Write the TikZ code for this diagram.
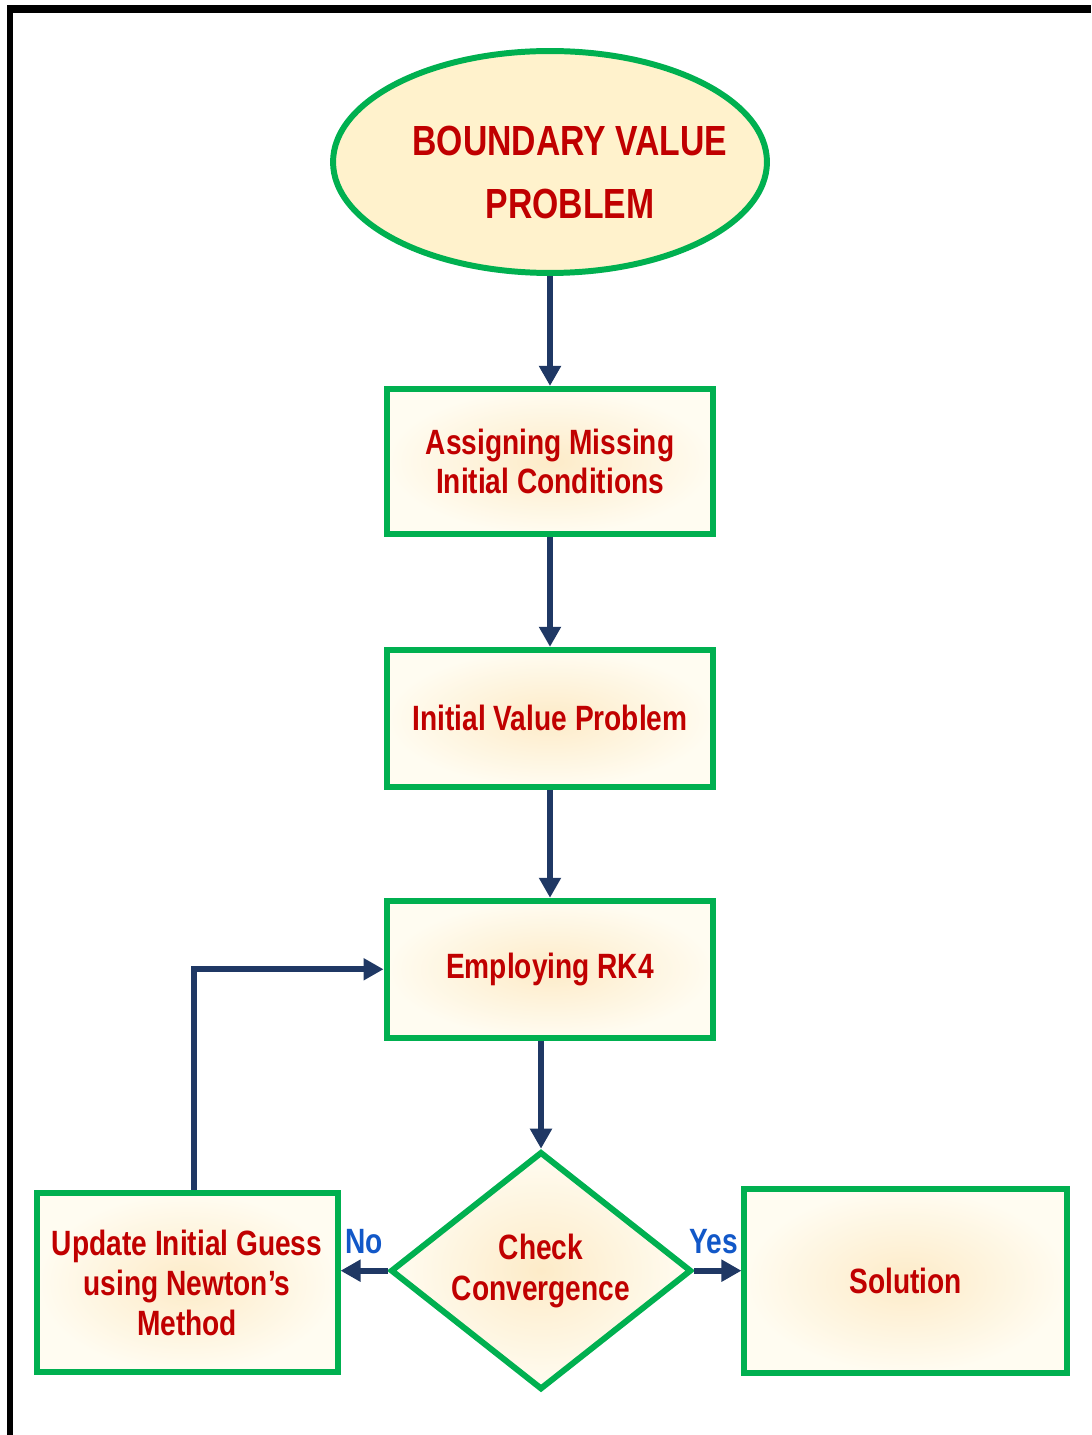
\documentclass[tikz,border=0pt]{standalone}
\usepackage{fontspec}
\setmainfont{Liberation Sans}
\newfontfamily\schmal{Liberation Sans}[FakeStretch=0.8]
\newfontfamily\titelschrift{Liberation Sans}[FakeStretch=0.8]
\usepackage{tikz}
\usetikzlibrary{arrows.meta,positioning,shapes.geometric,calc}

\definecolor{rahmengruen}{HTML}{00B050}
\definecolor{textrot}{HTML}{C00000}
\definecolor{pfeilblau}{HTML}{1F3864}
\definecolor{labelblau}{HTML}{1258C8}
\definecolor{creme}{HTML}{FFF2CC}
\definecolor{glowin}{HTML}{FDEBC8}
\definecolor{glowout}{HTML}{FFFCF1}

\begin{document}
\begin{tikzpicture}[
  x=0.02cm, y=-0.02cm,
  every node/.style={anchor=center},
  startF/.style={ellipse, draw=rahmengruen, line width=3.4pt, fill=creme,
    inner sep=0pt, minimum width=8.68cm, minimum height=4.44cm},
  titel/.style={text=textrot, align=center,
    font=\titelschrift\bfseries\fontsize{24pt}{35.7pt}\selectfont},
  boxF/.style={rectangle, draw=rahmengruen, line width=3.4pt,
    inner color=glowin, outer color=glowout, align=center, text=textrot,
    font=\schmal\bfseries\fontsize{20pt}{22.7pt}\selectfont,
    minimum width=6.54cm, minimum height=2.74cm},
  pruefF/.style={diamond, draw=rahmengruen, line width=3.4pt,
    inner color=glowin, outer color=glowout, align=center, text=textrot,
    font=\schmal\bfseries\fontsize{20pt}{23.5pt}\selectfont,
    inner sep=0pt, aspect=1.27, minimum width=6.02cm, minimum height=4.76cm},
  pfeil/.style={draw=pfeilblau, line width=3.2pt,
    -{Triangle[length=0.4cm, width=0.42cm]}},
  jn/.style={text=labelblau, font=\schmal\bfseries\fontsize{20pt}{22.7pt}\selectfont}
]
  \useasboundingbox (0,0) rectangle (1091,1435);

  % --- Rahmen (nur oben und links) ---
  \draw[line width=4.5pt] (7,9) -- (1091,9);
  \draw[line width=3.4pt] (10,9) -- (10,1435);

  % --- Hauptkette ---
  \node[startF, label={[titel, xshift=0.4cm, yshift=-0.21cm]center:BOUNDARY VALUE\\PROBLEM}] (bvp) at (550,162) {};

  \node (assign) [boxF, below=2.2cm of bvp, minimum height=2.9cm] {Assigning Missing\\Initial Conditions};
  \node (ivp) [boxF, below=2.2cm of assign] {Initial Value Problem};
  \node (rk4) [boxF, below=2.16cm of ivp] {Employing RK4};
  \node (check) [pruefF, below=2.16cm of rk4, xshift=-0.18cm] {Check\\Convergence};

  % --- Verzweigung ---
  \node (update) [boxF, left=0.94cm of check, yshift=-0.24cm, minimum width=6.02cm, minimum height=3.58cm]
    {Update Initial Guess\\using Newton’s\\Method};
  \node (loesung) [boxF, right=0.94cm of check, yshift=-0.2cm, minimum width=6.46cm, minimum height=3.68cm]
    {Solution};

  % Pfeile
  \draw[pfeil] (bvp) -- (assign);
  \draw[pfeil] (assign) -- (ivp);
  \draw[pfeil] (ivp) -- (rk4);
  \draw[pfeil] (check.north |- rk4.south) -- (check.north);
  \draw[pfeil] (check.west) -- (check.west -| update.east)
    node (nein) [jn, midway, above=0.16cm] {No};
  \draw[pfeil] (check.east) -- (check.east -| loesung.west)
    node (ja) [jn, midway, above=0.16cm, xshift=-0.08cm] {Yes};
  \draw[pfeil] ([xshift=0.14cm]update.north) |- (rk4.west);
\end{tikzpicture}
\end{document}
